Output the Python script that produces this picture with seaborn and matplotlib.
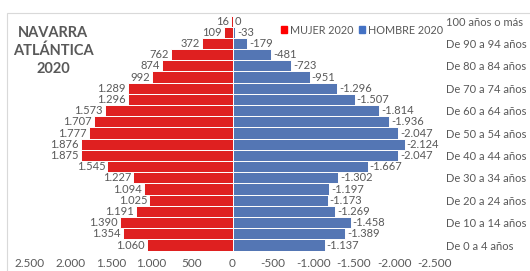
import numpy as np
import pandas as pd
import matplotlib
matplotlib.use("Agg")
import matplotlib.pyplot as plt
from matplotlib.patches import Patch, Rectangle
import seaborn as sns

# age groups, bottom (youngest) to top
edades = ["De 0 a 4 años", "De 5 a 9 años", "De 10 a 14 años", "De 15 a 19 años",
          "De 20 a 24 años", "De 25 a 29 años", "De 30 a 34 años", "De 35 a 39 años",
          "De 40 a 44 años", "De 45 a 49 años", "De 50 a 54 años", "De 55 a 59 años",
          "De 60 a 64 años", "De 65 a 69 años", "De 70 a 74 años", "De 75 a 79 años",
          "De 80 a 84 años", "De 85 a 89 años", "De 90 a 94 años", "De 95 a 99 años",
          "100 años o más"]
mujer = [1060, 1354, 1390, 1191, 1025, 1094, 1227, 1545, 1875, 1876, 1777,
         1707, 1573, 1296, 1289, 992, 874, 762, 372, 109, 16]
hombre = [-1137, -1389, -1458, -1269, -1173, -1197, -1302, -1667, -2047, -2124, -2047,
          -1936, -1814, -1507, -1296, -951, -723, -481, -179, -33, 0]
series = ["MUJER 2020", "HOMBRE 2020"]
ticks = [2500, 2000, 1500, 1000, 500, 0, -500, -1000, -1500, -2000, -2500]

ROJO = "#FF0000"
AZUL = "#4472C4"
GRIS = "#595959"


def fmt(v):
    return f"{v:,.0f}".replace(",", ".")


def main():
    sns.set_style("white")
    plt.rcParams["font.family"] = ["Lato", "DejaVu Sans"]

    df = pd.DataFrame({
        "edad": edades * 2,
        "valor": mujer + hombre,
        "sexo": [series[0]] * len(edades) + [series[1]] * len(edades),
    })
    orden = edades[::-1]  # top first

    fig = plt.figure(figsize=(5.3, 2.71), dpi=100)
    ax = fig.add_axes([30 / 530, 1 - 250.6 / 271, 405 / 530, 235.1 / 271])

    sns.barplot(data=df, y="edad", x="valor", hue="sexo", order=orden,
                hue_order=series, palette=[ROJO, AZUL], dodge=False,
                width=1.0, edgecolor="white", linewidth=0.7, errorbar=None,
                legend=False, ax=ax)

    ax.set_xlim(2500, -2500)
    ax.set_xticks(ticks)
    ax.set_xticklabels([fmt(t) for t in ticks], fontsize=8.5, color=GRIS)
    ax.tick_params(axis="x", length=0, pad=5.5)

    ax.yaxis.tick_right()
    ax.set_yticks(range(len(orden)))
    ax.set_yticklabels([lab if i % 2 == 0 else "" for i, lab in enumerate(orden)],
                       fontsize=8, color=GRIS)
    ax.tick_params(axis="y", length=0, pad=8)
    ax.set_xlabel("")
    ax.set_ylabel("")
    for s in ax.spines.values():
        s.set_visible(False)

    # data labels
    for i, edad in enumerate(orden):
        k = edades.index(edad)
        ax.annotate(fmt(mujer[k]), xy=(mujer[k], i), xytext=(-1.5, 0),
                    textcoords="offset points", ha="right", va="center",
                    fontsize=8, color=GRIS)
        ax.annotate(fmt(hombre[k]), xy=(hombre[k], i), xytext=(1.5, 0),
                    textcoords="offset points", ha="left", va="center",
                    fontsize=8, color=GRIS)

    handles = [Patch(color=ROJO), Patch(color=AZUL)]
    fig.legend(handles, series, loc="center", bbox_to_anchor=(362 / 530, 1 - 30 / 271),
               ncol=2, frameon=False, fontsize=7.8, handlelength=0.55,
               handleheight=0.55, handletextpad=0.3, columnspacing=0.5,
               labelcolor=GRIS, borderpad=0.1)

    fig.text(53 / 530, 1 - 51 / 271, "NAVARRA\nATLÁNTICA\n2020", ha="center",
             va="center", fontsize=10.5, fontweight="bold", color=GRIS,
             linespacing=1.35)

    fig.patches.append(Rectangle((7 / 530, -0.1), 1.2, 1 - 13 / 271 + 0.1,
                                 transform=fig.transFigure, fill=False,
                                 edgecolor="#D9D9D9", linewidth=0.8))

    fig.savefig("out.png", dpi=100)


if __name__ == "__main__":
    main()
